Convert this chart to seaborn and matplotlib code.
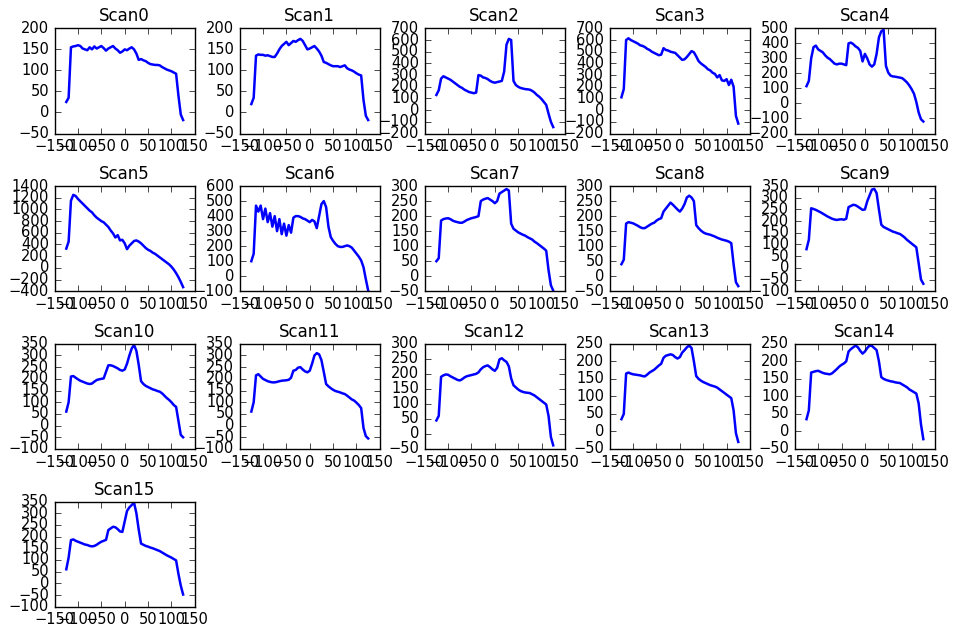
import numpy as np
import matplotlib
matplotlib.use("Agg")
import matplotlib.pyplot as plt
import seaborn as sns

plt.style.use("classic")

# positions le long du scan (communes a tous les scans)
x_pos = [-125, -120, -115, -110, -105, -100, -95, -90, -85, -80, -75, -70, -65,
         -60, -55, -50, -45, -40, -35, -30, -25, -20, -15, -10, -5, 0, 5, 10,
         15, 20, 25, 30, 35, 40, 45, 50, 55, 60, 65, 70, 75, 80, 85, 90, 95,
         100, 105, 110, 115, 120, 125]

scan0 = [25, 35, 155, 157, 158, 160, 158, 152, 150, 148, 155, 150, 157, 152, 155, 158, 153,
         147, 152, 155, 158, 152, 148, 142, 145, 150, 148, 152, 155, 150, 140, 125, 127,
         124, 122, 118, 115, 114, 113, 113, 112, 108, 105, 102, 100, 98, 95, 92, 40, -5, -18]
scan1 = [20, 35, 135, 138, 137, 137, 135, 136, 134, 132, 132, 140, 150, 158, 163, 168, 160,
         165, 170, 168, 172, 175, 170, 160, 150, 152, 155, 158, 152, 145, 135, 120, 118,
         115, 112, 110, 110, 110, 108, 110, 112, 105, 102, 100, 97, 93, 90, 88, 30, -8, -18]
scan2 = [130, 170, 270, 290, 280, 270, 260, 245, 230, 215, 200, 190, 175, 165, 155, 150, 145,
         150, 300, 295, 280, 275, 265, 250, 240, 235, 240, 245, 250, 330, 560, 610, 600,
         250, 215, 200, 190, 185, 180, 178, 175, 165, 150, 130, 115, 95, 70, 45, -30, -100, -145]
scan3 = [110, 180, 600, 615, 600, 590, 580, 570, 555, 550, 540, 525, 515, 500, 490, 480, 470,
         475, 530, 515, 510, 500, 495, 490, 470, 450, 430, 435, 455, 480, 505, 495, 460,
         420, 400, 385, 370, 350, 340, 320, 310, 280, 300, 255, 250, 265, 215, 260, 200, -50, -115]
scan4 = [115, 150, 300, 375, 385, 360, 350, 340, 320, 305, 295, 280, 265, 260, 265, 265, 260,
         255, 400, 405, 395, 380, 370, 350, 280, 330, 300, 260, 245, 260, 330, 440, 480,
         490, 250, 205, 185, 180, 178, 175, 172, 168, 155, 140, 120, 95, 65, 10, -60, -105, -120]
scan5 = [330, 450, 1150, 1250, 1230, 1180, 1140, 1100, 1060, 1020, 980, 950, 900, 860, 830,
         800, 780, 740, 700, 640, 590, 520, 560, 470, 480, 420, 320, 380, 420, 460, 470, 450,
         420, 380, 340, 310, 290, 260, 240, 210, 180, 150, 120, 90, 60, 20, -30, -90, -160,
         -240, -330]
scan6 = [100, 150, 470, 430, 470, 380, 450, 360, 420, 330, 400, 300, 380, 280, 350, 270, 340,
         290, 390, 400, 400, 395, 385, 380, 370, 360, 375, 365, 320, 400, 480, 500, 460,
         330, 260, 235, 215, 200, 195, 195, 200, 205, 200, 190, 170, 150, 130, 105, 60, -20, -95]
scan7 = [50, 60, 185, 190, 192, 193, 190, 185, 182, 180, 178, 178, 182, 187, 190, 193, 195,
         197, 200, 250, 255, 258, 260, 255, 250, 243, 250, 275, 280, 285, 290, 285, 175,
         158, 152, 146, 142, 138, 135, 130, 126, 122, 115, 110, 104, 98, 92, 85, 20, -30, -48]
scan8 = [40, 55, 175, 180, 178, 176, 172, 168, 163, 160, 160, 165, 170, 175, 178, 185, 190,
         193, 215, 225, 235, 245, 238, 230, 222, 215, 225, 240, 262, 268, 262, 250, 170,
         160, 152, 146, 142, 140, 138, 135, 132, 128, 125, 122, 120, 118, 115, 110, 40, -20, -33]
scan9 = [80, 120, 255, 252, 248, 243, 238, 232, 226, 220, 215, 210, 207, 205, 207, 208, 206,
         210, 260, 265, 270, 268, 262, 255, 248, 250, 285, 310, 335, 338, 320, 250, 185,
         175, 170, 165, 160, 155, 152, 148, 145, 138, 130, 120, 112, 104, 96, 88, 20, -50, -68]
scan10 = [60, 100, 210, 212, 205, 198, 192, 188, 184, 180, 178, 180, 188, 195, 198, 200, 202,
          230, 258, 258, 255, 250, 245, 238, 235, 240, 265, 300, 330, 345, 320, 260, 190,
          178, 170, 165, 160, 155, 152, 148, 145, 138, 128, 118, 110, 100, 88, 80, 20, -40, -50]
scan11 = [60, 100, 215, 220, 210, 200, 195, 190, 187, 185, 185, 187, 190, 192, 193, 194, 196,
          205, 235, 238, 248, 250, 240, 232, 228, 235, 265, 300, 310, 305, 280, 230, 178,
          168, 160, 153, 148, 145, 142, 138, 135, 128, 120, 112, 107, 98, 88, 75, -10, -45, -55]
scan12 = [45, 60, 190, 195, 198, 197, 192, 188, 184, 180, 178, 182, 188, 192, 194, 196, 198,
          200, 205, 215, 222, 226, 228, 222, 215, 210, 220, 248, 252, 245, 240, 225, 185,
          162, 155, 148, 143, 140, 138, 137, 136, 132, 128, 122, 116, 110, 104, 98, 60, -10, -38]
scan13 = [35, 50, 165, 168, 165, 163, 162, 161, 160, 158, 157, 162, 168, 172, 176, 182, 188,
          193, 210, 216, 218, 220, 218, 212, 208, 212, 225, 232, 240, 245, 238, 200, 158,
          150, 145, 141, 138, 135, 132, 130, 128, 125, 120, 115, 110, 105, 100, 95, 60, -5, -30]
scan14 = [35, 60, 168, 170, 172, 173, 170, 167, 165, 164, 163, 166, 172, 178, 185, 190, 194,
          200, 228, 235, 240, 245, 240, 230, 222, 228, 238, 245, 244, 238, 232, 200, 155,
          150, 147, 145, 143, 142, 140, 139, 138, 134, 130, 126, 120, 116, 112, 108, 80, 20, -22]
scan15 = [60, 110, 185, 188, 182, 178, 174, 170, 166, 164, 160, 158, 160, 165, 172, 178, 182,
          186, 228, 235, 242, 240, 232, 222, 220, 265, 310, 325, 335, 345, 300, 230, 170,
          165, 160, 157, 153, 150, 146, 142, 138, 132, 126, 120, 115, 110, 104, 98, 40, -10, -48]

scans = [scan0, scan1, scan2, scan3, scan4, scan5, scan6, scan7,
         scan8, scan9, scan10, scan11, scan12, scan13, scan14, scan15]
titles = ["Scan%d" % i for i in range(16)]

# limites de l'axe y : (min, max, pas)
y_lims = [(-50, 200, 50), (-50, 200, 50), (-200, 700, 100), (-200, 700, 100),
          (-200, 500, 100), (-400, 1400, 200), (-100, 600, 100), (-50, 300, 50),
          (-50, 300, 50), (-100, 350, 50), (-100, 350, 50), (-100, 350, 50),
          (-50, 300, 50), (-50, 250, 50), (-50, 250, 50), (-100, 350, 50)]

fig, axes = plt.subplots(4, 5, figsize=(9.58, 6.3), dpi=100, facecolor="white")
fig.subplots_adjust(left=0.057, right=0.976, top=0.955, bottom=0.037,
                    wspace=0.32, hspace=0.50)

for i, ax in enumerate(axes.flat):
    if i >= len(scans):
        fig.delaxes(ax)
        continue
    sns.lineplot(x=x_pos, y=scans[i], ax=ax, color="b", linewidth=1.8)
    lo, hi, step = y_lims[i]
    ax.set_xlim(-150, 150)
    ax.set_xticks(np.arange(-150, 151, 50))
    ax.set_ylim(lo, hi)
    ax.set_yticks(np.arange(lo, hi + 1, step))
    ax.tick_params(labelsize=10.5, direction="in", top=True, right=True)
    ax.set_title(titles[i], fontsize=12)
    ax.set_xlabel("")
    ax.set_ylabel("")

plt.savefig("out.png", dpi=100, facecolor="white")
